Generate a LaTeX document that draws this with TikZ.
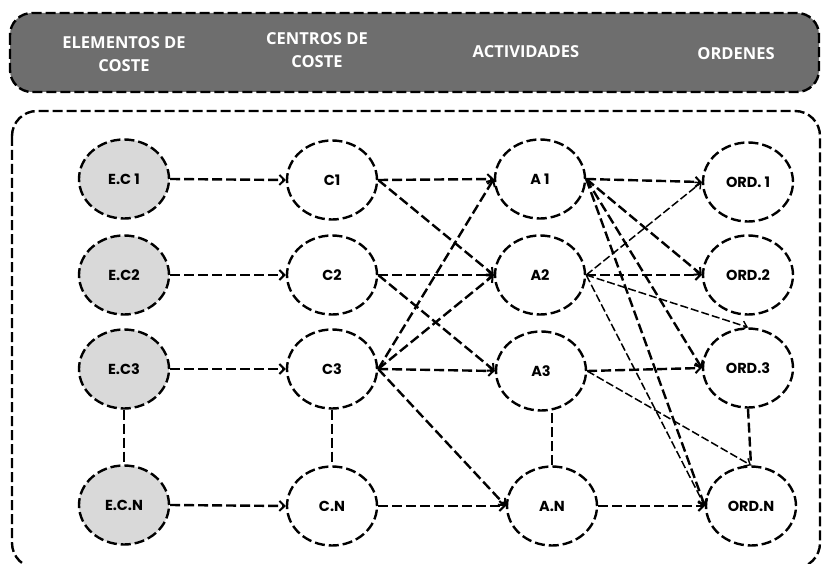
\documentclass[tikz,border=0pt]{standalone}
\usepackage{fontspec}
\setmainfont{Poppins}
\newfontfamily\headfont{Open Sans}
\usetikzlibrary{shapes.geometric,arrows.meta}
\definecolor{headgray}{HTML}{6E6E6E}
\definecolor{ecgray}{HTML}{D9D9D9}
\tikzset{
  oval/.style={ellipse, draw=black, line width=2.4pt, dash pattern=on 10pt off 4pt,
    minimum width=90pt, minimum height=79pt, inner sep=0pt, fill=white,
    font=\fontsize{14.5pt}{16pt}\selectfont\bfseries},
  ecoval/.style={oval, fill=ecgray},
  thickarr/.style={line width=2.4pt, dash pattern=on 10pt off 4pt,
    -{Straight Barb[length=5pt,width=10pt,line width=2pt]}},
  thinarr/.style={line width=1.5pt, dash pattern=on 8pt off 3pt,
    -{Straight Barb[length=5pt,width=9pt,line width=1.4pt]}},
  vlink/.style={line width=2.4pt, dash pattern=on 10pt off 4pt},
  headtext/.style={text=white, align=center,
    font=\headfont\fontsize{16.5pt}{23pt}\selectfont\bfseries},
}
\begin{document}
\begin{tikzpicture}[x=1pt,y=-1pt]
\useasboundingbox (0,0) rectangle (824,564);
\clip (0,0) rectangle (824,564);
% header
\draw[fill=headgray, line width=2.4pt, dash pattern=on 10pt off 4pt, rounded corners=22pt]
  (10,13) rectangle (819,92);
\node[headtext] (h1) at (124,54) {ELEMENTOS DE\\COSTE};
\node[headtext] (h2) at (317,50) {CENTROS DE\\COSTE};
\node[headtext] (h3) at (526,52) {ACTIVIDADES};
\node[headtext] (h4) at (736,54) {ORDENES};
% body frame
\draw[line width=2.4pt, dash pattern=on 10pt off 4pt, rounded corners=25pt]
  (12,111) rectangle (820,568);
% nodes
\node[ecoval] (ec1) at (124,179) {E.C 1};
\node[ecoval] (ec2) at (124,275) {E.C2};
\node[ecoval] (ec3) at (124,369) {E.C3};
\node[ecoval] (ecn) at (124,505) {E.C.N};
\node[oval] (c1) at (332,180) {C1};
\node[oval] (c2) at (332,275) {C2};
\node[oval] (c3) at (332,369) {C3};
\node[oval] (cn) at (332,506) {C.N};
\node[oval] (a1) at (540,179) {A 1};
\node[oval] (a2) at (540,275) {A2};
\node[oval] (a3) at (541,371) {A3};
\node[oval] (an) at (552,506) {A.N};
\node[oval] (o1) at (748,182) {ORD. 1};
\node[oval] (o2) at (748,275) {ORD.2};
\node[oval] (o3) at (748,368) {ORD.3};
\node[oval] (on) at (751,506) {ORD.N};
% vertical links
\draw[vlink] (ec3.south) -- (ecn.north);
\draw[vlink] (c3.south) -- (cn.north);
\draw[vlink] (an.north) -- (an.north |- a3.south);
\draw[vlink] (o3.south) -- (on.north);
% E -> C
\draw[thickarr] (ec1.east) -- (c1.west);
\draw[thickarr] (ec2.east) -- (c2.west);
\draw[thickarr] (ec3.east) -- (c3.west);
\draw[thickarr] (ecn.east) -- (cn.west);
% C -> A
\draw[thickarr] (c1.east) -- (a1.west);
\draw[thickarr] (c1.east) -- (a2.west);
\draw[thickarr] (c2.east) -- (a2.west);
\draw[thickarr] (c2.east) -- (a3.west);
\draw[thickarr] (c3.east) -- (a1.west);
\draw[thickarr] (c3.east) -- (a2.west);
\draw[thickarr] (c3.east) -- (a3.west);
\draw[thickarr] (c3.east) -- (an.west);
\draw[thickarr] (cn.east) -- (an.west);
% A -> ORD
\draw[thickarr] (a1.east) -- (o1.west);
\draw[thickarr] (a1.east) -- (o2.west);
\draw[thickarr] (a1.east) -- (o3.west);
\draw[thickarr] (a1.east) -- (on.west);
\draw[thickarr] (a2.east) -- (o2.west);
\draw[thickarr] (a3.east) -- (o3.west);
\draw[thickarr] (an.east) -- (on.west);
\draw[thinarr] (a2.east) -- (o1.west);
\draw[thinarr] (a2.east) -- (o3.north);
\draw[thinarr] (a2.east) -- (on.west);
\draw[thinarr] (a3.east) -- (on.north);
\end{tikzpicture}
\end{document}
